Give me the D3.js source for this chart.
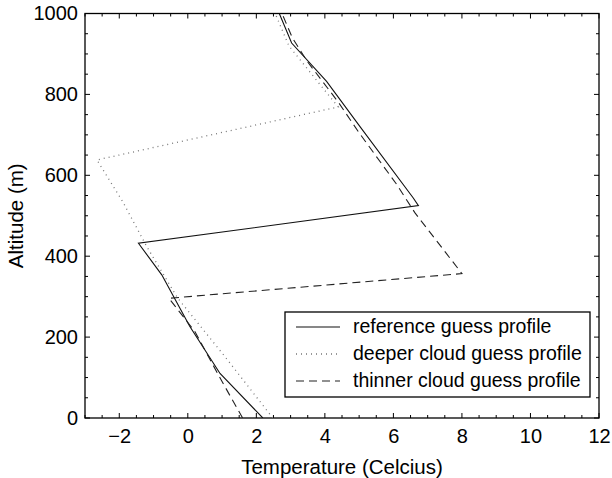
<!DOCTYPE html>
<html>
<head>
<title>guess profiles</title>
<script src="https://cdn.jsdelivr.net/npm/d3@7"></script>
<style>
  body { margin: 0; background: #fff; }
  text { font-family: "Liberation Sans", Arial, sans-serif; }
</style>
</head>
<body>
<script>
// temperature (C) vs altitude (m)
var refT   = [2.19, 0.94, 0.06, -0.76, -1.44, 6.73, 6.58, 5.02, 4.05, 3.03, 2.67];
var refAlt = [0, 110, 226, 354, 432, 525, 544, 721, 832, 927, 1000];

var deepT   = [2.48, 1.1, -0.3, -1.2, -1.9, -2.65, 4.39, 3.9, 2.95, 2.55];
var deepAlt = [0, 150, 297, 424, 535, 638, 769, 820, 920, 1000];

var thinT   = [1.6, 1.0, 0.21, -0.55, 8.0, 6.63, 6.1, 5.0, 4.4, 3.5, 3.05, 2.75];
var thinAlt = [0, 90, 213, 296, 357, 507, 577, 705, 780, 880, 940, 1000];

var seriesNames = ['reference guess profile', 'deeper cloud guess profile', 'thinner cloud guess profile'];
var xTicks = [-2, 0, 2, 4, 6, 8, 10, 12];
var yTicks = [0, 200, 400, 600, 800, 1000];

var W = 612, H = 478;
var pLeft = 85, pRight = 599, pTop = 13.5, pBottom = 418;

var svg = d3.select('body').append('svg')
  .attr('width', W)
  .attr('height', H);

var x = d3.scaleLinear().domain([-3, 12]).range([pLeft, pRight]);
var y = d3.scaleLinear().domain([0, 1000]).range([pBottom, pTop]);

// ticks (inward, all four sides), minor every 0.5 C / 50 m
var xMinor = d3.range(-3, 12.01, 0.5);
var yMinor = d3.range(0, 1000.1, 50);
var g = svg.append('g').attr('stroke', '#000').attr('stroke-width', 1);
xMinor.forEach(function(v) {
  var len = (v % 2 === 0) ? 5 : 3;
  g.append('line').attr('x1', x(v)).attr('x2', x(v)).attr('y1', pBottom).attr('y2', pBottom - len);
  g.append('line').attr('x1', x(v)).attr('x2', x(v)).attr('y1', pTop).attr('y2', pTop + len);
});
yMinor.forEach(function(v) {
  var len = (v % 200 === 0) ? 5 : 3;
  g.append('line').attr('x1', pLeft).attr('x2', pLeft + len).attr('y1', y(v)).attr('y2', y(v));
  g.append('line').attr('x1', pRight).attr('x2', pRight - len).attr('y1', y(v)).attr('y2', y(v));
});

// tick labels via axes
svg.append('g')
  .attr('transform', 'translate(0,' + pBottom + ')')
  .call(d3.axisBottom(x).tickValues(xTicks).tickSize(0).tickPadding(11)
        .tickFormat(function(d) { return d < 0 ? '\u2212' + Math.abs(d) : d; }))
  .call(function(s) { s.select('.domain').remove(); })
  .selectAll('text').attr('font-size', 20).attr('fill', '#000');

svg.append('g')
  .attr('transform', 'translate(' + pLeft + ',0)')
  .call(d3.axisLeft(y).tickValues(yTicks).tickSize(0).tickPadding(7).tickFormat(d3.format('d')))
  .call(function(s) { s.select('.domain').remove(); })
  .selectAll('text').attr('font-size', 20).attr('fill', '#000');

// box
svg.append('rect')
  .attr('x', pLeft).attr('y', pTop)
  .attr('width', pRight - pLeft).attr('height', pBottom - pTop)
  .attr('fill', 'none').attr('stroke', '#000').attr('stroke-width', 1.3);

svg.append('text')
  .attr('x', (pLeft + pRight) / 2).attr('y', 474)
  .attr('text-anchor', 'middle').attr('font-size', 20.5)
  .text('Temperature (Celcius)');

svg.append('text')
  .attr('transform', 'translate(23,' + ((pTop + pBottom) / 2) + ') rotate(-90)')
  .attr('text-anchor', 'middle').attr('font-size', 20.5)
  .text('Altitude (m)');

var styles = [
  { stroke: '#111', dash: null, width: 1.1 },
  { stroke: '#777', dash: '1,4', width: 1.3 },
  { stroke: '#222', dash: '8,5', width: 1.1 }
];
var series = [
  d3.zip(refT, refAlt),
  d3.zip(deepT, deepAlt),
  d3.zip(thinT, thinAlt)
];

var line = d3.line()
  .x(function(d) { return x(d[0]); })
  .y(function(d) { return y(d[1]); });

svg.append('clipPath').attr('id', 'clip')
  .append('rect').attr('x', pLeft).attr('y', pTop)
  .attr('width', pRight - pLeft).attr('height', pBottom - pTop);

svg.append('g').attr('clip-path', 'url(#clip)')
  .selectAll('path')
  .data(series)
  .enter()
  .append('path')
  .attr('d', line)
  .attr('fill', 'none')
  .attr('stroke', function(d, i) { return styles[i].stroke; })
  .attr('stroke-width', function(d, i) { return styles[i].width; })
  .attr('stroke-dasharray', function(d, i) { return styles[i].dash; });

// legend
var lg = svg.append('g');
lg.append('rect')
  .attr('x', 285).attr('y', 312)
  .attr('width', 305).attr('height', 85)
  .attr('fill', '#fff').attr('stroke', '#000').attr('stroke-width', 1.3);

seriesNames.forEach(function(name, i) {
  var yy = 327 + i * 27;
  lg.append('line')
    .attr('x1', 296).attr('x2', 340).attr('y1', yy).attr('y2', yy)
    .attr('stroke', styles[i].stroke)
    .attr('stroke-width', styles[i].width)
    .attr('stroke-dasharray', styles[i].dash);
  lg.append('text')
    .attr('x', 353).attr('y', yy + 6)
    .attr('font-size', 19.5)
    .text(name);
});
</script>
</body>
</html>
